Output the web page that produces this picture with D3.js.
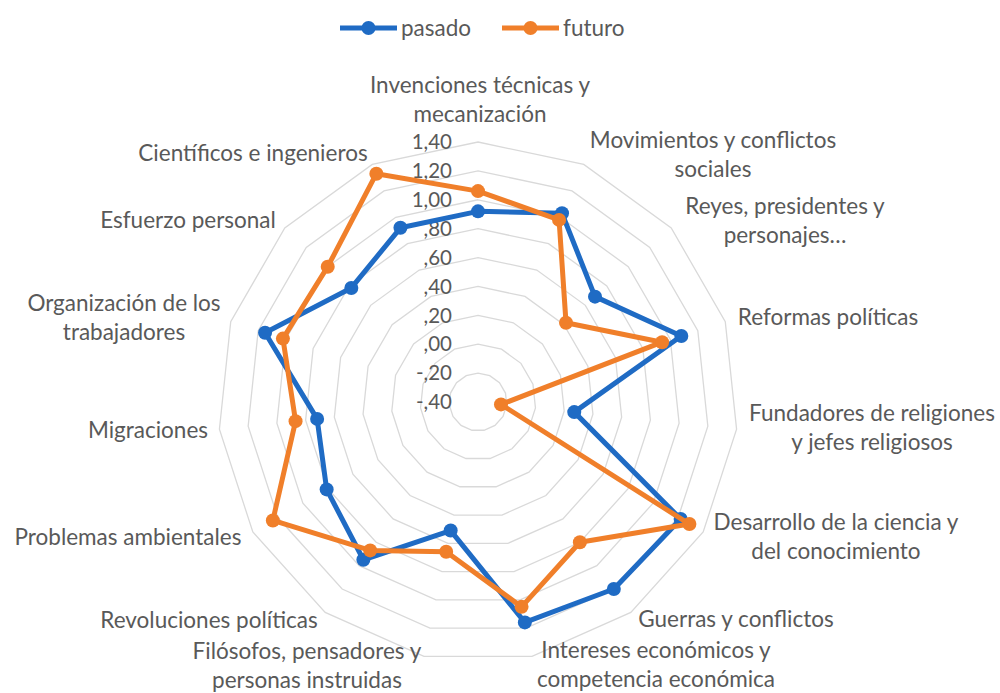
<!DOCTYPE html>
<html>
<head>
<meta charset="utf-8">
<script src="https://cdn.jsdelivr.net/npm/d3@7"></script>
<style>
  body { margin: 0; background: #fff; }
  svg { display: block; font-family: Lato, "Open Sans", sans-serif; }
</style>
</head>
<body>
<svg id="chart"></svg>
<script>
// categories, clockwise from the top
let categories = [
  "Invenciones técnicas y|mecanización",
  "Movimientos y conflictos|sociales",
  "Reyes, presidentes y|personajes…",
  "Reformas políticas",
  "Fundadores de religiones|y jefes religiosos",
  "Desarrollo de la ciencia y|del conocimiento",
  "Guerras y conflictos",
  "Intereses económicos y|competencia económica",
  "Filósofos, pensadores y|personas instruidas",
  "Revoluciones políticas",
  "Problemas ambientales",
  "Migraciones",
  "Organización de los|trabajadores",
  "Esfuerzo personal",
  "Científicos e ingenieros"
];

let pasado = [0.92, 1.03, 0.69, 1.08, 0.27, 1.22, 1.20, 1.16, 0.51, 0.95, 0.81, 0.72, 1.15, 0.78, 0.92];
let futuro = [1.06, 0.98, 0.42, 0.94, -0.24, 1.29, 0.80, 1.05, 0.66, 0.87, 1.24, 0.87, 1.02, 1.00, 1.33];

let tickValues = [-0.4, -0.2, 0, 0.2, 0.4, 0.6, 0.8, 1.0, 1.2, 1.4];
let tickLabels = ["-,40", "-,20", ",00", ",20", ",40", ",60", ",80", "1,00", "1,20", "1,40"];

let seriesNames = ["pasado", "futuro"];
let seriesColors = ["#1f6bc4", "#f07f2a"];

// label centre points around the chart
let labelPos = [
  [480, 85], [713, 140], [785, 206], [828, 317], [872, 413],
  [836, 522], [736, 619], [656, 650], [307, 651], [209, 620],
  [128, 537], [148, 430], [124, 303], [188, 220], [253, 153]
];

function makeChart() {
  let width = 1000, height = 693;
  let cx = 478, cy = 402;
  let n = categories.length;
  let textColor = "#595959";
  let fs = 22.5;

  let svg = d3.select('#chart')
      .attr('width', width).attr('height', height);

  let r = d3.scaleLinear()
      .domain([-0.4, 1.4])
      .range([0, 260]);

  let angle = d3.scaleLinear()
      .domain([0, n])
      .range([0, 2 * Math.PI]);

  let g = svg.append('g')
      .attr('transform', `translate(${cx},${cy})`);

  // grid rings
  let ring = d3.lineRadial()
      .curve(d3.curveLinearClosed)
      .angle((d, i) => angle(i))
      .radius(d => r(d));

  g.selectAll('path.ring')
      .data(tickValues.slice(1)).enter().append('path')
      .attr('class', 'ring')
      .attr('d', v => ring(categories.map(() => v)))
      .attr('fill', 'none')
      .attr('stroke', '#d9d9d9')
      .attr('stroke-width', 1.3);

  // tick labels along the top axis
  g.selectAll('text.tick')
      .data(tickValues).enter().append('text')
      .attr('class', 'tick')
      .attr('x', -26)
      .attr('y', v => -r(v))
      .attr('dy', '0.35em')
      .attr('text-anchor', 'end')
      .attr('font-size', 20.5)
      .attr('fill', textColor)
      .text((v, i) => tickLabels[i]);

  // series
  let data = [pasado, futuro];
  let line = d3.lineRadial()
      .curve(d3.curveLinearClosed)
      .angle((d, i) => angle(i))
      .radius(d => r(d));

  data.forEach(function(vals, k){
    let color = seriesColors[k];
    g.append('path')
        .attr('d', line(vals))
        .attr('fill', 'none')
        .attr('stroke', color)
        .attr('stroke-width', 5)
        .attr('stroke-linejoin', 'round');

    g.selectAll('circle.s' + k)
        .data(vals).enter().append('circle')
        .attr('class', 's' + k)
        .attr('cx', (d, i) => r(d) * Math.sin(angle(i)))
        .attr('cy', (d, i) => -r(d) * Math.cos(angle(i)))
        .attr('r', 7)
        .attr('fill', color);
  });

  // category labels
  let labels = svg.selectAll('text.cat')
      .data(categories).enter().append('text')
      .attr('class', 'cat')
      .attr('text-anchor', 'middle')
      .attr('font-size', fs)
      .attr('fill', textColor);

  labels.each(function(d, i){
    let lines = d.split('|');
    let t = d3.select(this);
    lines.forEach(function(s, j){
      t.append('tspan')
          .attr('x', labelPos[i][0])
          .attr('y', labelPos[i][1] + j * 29)
          .attr('dy', '0.35em')
          .text(s);
    });
  });

  // legend
  let legendX = [340, 502];
  seriesNames.forEach(function(name, k){
    let lg = svg.append('g')
        .attr('transform', `translate(${legendX[k]},28)`);
    lg.append('line')
        .attr('x1', 0).attr('x2', 57)
        .attr('stroke', seriesColors[k])
        .attr('stroke-width', 5);
    lg.append('circle')
        .attr('cx', 28.5).attr('r', 7)
        .attr('fill', seriesColors[k]);
    lg.append('text')
        .attr('x', 61).attr('dy', '0.35em')
        .attr('font-size', fs)
        .attr('fill', textColor)
        .text(name);
  });
}

makeChart();
</script>
</body>
</html>
